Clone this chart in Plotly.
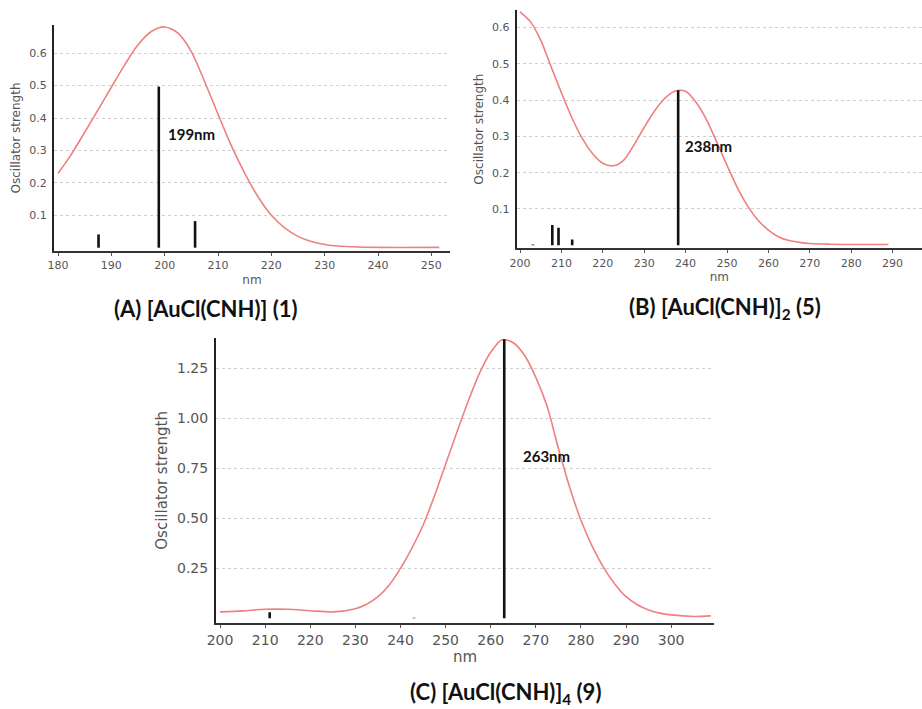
import plotly.graph_objects as go

# ---------------- data ----------------
# Panel A: [AuCl(CNH)] (1)
a_nm = [180, 182.5, 185, 187.5, 190, 192.5, 195, 197.5, 200, 202.5, 205, 207.5, 210,
        212.5, 215, 217.5, 220, 222.5, 225, 227.5, 230, 232.5, 235, 240, 251.5]
a_f = [0.229, 0.288, 0.356, 0.425, 0.495, 0.564, 0.626, 0.667, 0.681, 0.662, 0.605, 0.512, 0.412,
       0.315, 0.23, 0.157, 0.1, 0.061, 0.035, 0.019, 0.01, 0.005, 0.003, 0.001, 0.001]
a_stick_nm = [187.6, 198.9, 205.7]
a_stick_f = [0.041, 0.497, 0.082]

# Panel B: [AuCl(CNH)]2 (5)
b_nm = [200, 202.5, 205, 207.5, 210, 212.5, 215, 217.5, 220, 222.5, 225, 227.5, 230,
        232.5, 235, 237.5, 240, 242.5, 245, 247.5, 250, 252.5, 255, 257.5, 260, 262.5,
        265, 267.5, 270, 275, 280, 289]
b_f = [0.643, 0.616, 0.565, 0.492, 0.42, 0.352, 0.295, 0.253, 0.226, 0.219, 0.234, 0.276,
       0.325, 0.37, 0.405, 0.425, 0.424, 0.394, 0.347, 0.285, 0.22, 0.159, 0.108, 0.069,
       0.042, 0.023, 0.013, 0.008, 0.005, 0.003, 0.002, 0.002]
b_stick_nm = [203.1, 207.8, 209.3, 212.6, 238.2]
b_stick_f = [0.002, 0.056, 0.048, 0.016, 0.427]

# Panel C: [AuCl(CNH)]4 (9)
c_nm = [200, 205, 210, 215, 220, 225, 230, 232.5, 235, 237.5, 240, 242.5, 245, 247.5, 250,
        252.5, 255, 257.5, 260, 262.5, 265, 267.5, 270, 272.5, 275, 277.5, 280, 282.5, 285,
        287.5, 290, 292.5, 295, 297.5, 300, 305, 308.8]
c_f = [0.032, 0.037, 0.045, 0.045, 0.038, 0.032, 0.048, 0.07, 0.108, 0.167, 0.25, 0.35,
       0.465, 0.61, 0.77, 0.93, 1.085, 1.225, 1.33, 1.393, 1.378, 1.315, 1.205, 1.06, 0.85,
       0.655, 0.49, 0.36, 0.255, 0.172, 0.108, 0.068, 0.042, 0.026, 0.017, 0.009, 0.012]
c_stick_nm = [211.0, 243.0, 263.0]
c_stick_f = [0.03, 0.003, 1.395]

labels = ["199nm", "238nm", "263nm"]
label_nm = [200.3, 239.3, 266.7]
label_f = [0.35, 0.274, 0.81]

titles = ["(A) [AuCl(CNH)] (1)", "(B) [AuCl(CNH)]<sub>2</sub> (5)", "(C) [AuCl(CNH)]<sub>4</sub> (9)"]

a_xticks = [180, 190, 200, 210, 220, 230, 240, 250]
b_xticks = [200, 210, 220, 230, 240, 250, 260, 270, 280, 290]
c_xticks = [200, 210, 220, 230, 240, 250, 260, 270, 280, 290, 300]
ab_yticks = [0.1, 0.2, 0.3, 0.4, 0.5, 0.6]
c_yticks = [0.25, 0.5, 0.75, 1.0, 1.25]
c_ytext = ["0.25", "0.50", "0.75", "1.00", "1.25"]

# ---------------- figure ----------------
W, H = 922, 709
CURVE = "#f07f7f"
fig = go.Figure()

def sticks(xs, ys):
    sx, sy = [], []
    for x, y in zip(xs, ys):
        sx += [x, x, None]
        sy += [0, y, None]
    return sx, sy

panels = [
    (a_nm, a_f, a_stick_nm, a_stick_f, "x", "y"),
    (b_nm, b_f, b_stick_nm, b_stick_f, "x2", "y2"),
    (c_nm, c_f, c_stick_nm, c_stick_f, "x3", "y3"),
]
for nm, f, snm, sf, xa, ya in panels:
    fig.add_trace(go.Scatter(x=nm, y=f, mode="lines", xaxis=xa, yaxis=ya,
                             line=dict(color=CURVE, width=1.6, shape="spline", smoothing=0.8),
                             showlegend=False, hoverinfo="skip"))
    sx, sy = sticks(snm, sf)
    fig.add_trace(go.Scatter(x=sx, y=sy, mode="lines", xaxis=xa, yaxis=ya,
                             line=dict(color="#111111", width=2.6),
                             showlegend=False, hoverinfo="skip", cliponaxis=False))

def px_x(p):
    return p / W

def px_y(p):
    return 1 - p / H

tickfont_s = dict(family="DejaVu Sans", size=11, color="#555555")
tickfont_l = dict(family="DejaVu Sans", size=14, color="#555555")
grid = dict(showgrid=True, gridcolor="#cfcfcf", griddash="dot", gridwidth=1)

def xax(domain, rng, ticks, tf, tsize, anchor):
    return dict(domain=domain, range=rng, tickvals=ticks, tickfont=tf, anchor=anchor,
                automargin=False,
                showgrid=False, zeroline=False, showline=True, linecolor="#333333",
                linewidth=2, ticks="outside", ticklen=3, tickcolor="#555555",
                title=dict(text="nm", font=dict(family="DejaVu Sans", size=tsize, color="#555555"),
                           standoff=4))

def yax(domain, rng, ticks, tf, tsize, anchor, ticktext=None):
    d = dict(domain=domain, range=rng, tickvals=ticks, tickfont=tf, zeroline=False,
             automargin=False,
             showline=True, linecolor="#222222", linewidth=2, ticks="outside", ticklen=3,
             tickcolor="rgba(0,0,0,0)", anchor=anchor,
             title=dict(text="Oscillator strength",
                        font=dict(family="DejaVu Sans", size=tsize, color="#555555"),
                        standoff=6), **grid)
    if ticktext:
        d["ticktext"] = ticktext
    return d

fig.update_layout(
    width=W, height=H, margin=dict(l=0, r=0, t=0, b=0, autoexpand=False),
    plot_bgcolor="white", paper_bgcolor="white",
    xaxis=xax([px_x(54), px_x(450)], [179.25, 253.5], a_xticks, tickfont_s, 12, "y"),
    yaxis=yax([px_y(251), px_y(25)], [-0.0102, 0.687], ab_yticks, tickfont_s, 12, "x"),
    xaxis2=xax([px_x(516.7), 1.0], [199.2, 297.1], b_xticks, tickfont_s, 12, "y2"),
    yaxis2=yax([px_y(248.3), px_y(10)], [-0.0083, 0.648], ab_yticks, tickfont_s, 12, "x2"),
    xaxis3=xax([px_x(216), px_x(714)], [199.1, 309.5], c_xticks, tickfont_l, 15, "y3"),
    yaxis3=yax([px_y(622.7), px_y(338)], [-0.022, 1.4015], c_yticks, tickfont_l, 15, "x3", c_ytext),
)

# peak labels
for i, (xa, ya) in enumerate([("x", "y"), ("x2", "y2"), ("x3", "y3")]):
    fig.add_annotation(x=label_nm[i], y=label_f[i], xref=xa, yref=ya, text="<b>" + labels[i] + "</b>",
                       showarrow=False, xanchor="left", yanchor="middle",
                       font=dict(family="Lato", size=15, color="#111111"))

# panel titles
title_pos = [(206, 308), (725, 308), (505, 693)]
for t, (cx, cy) in zip(titles, title_pos):
    fig.add_annotation(x=px_x(cx), y=px_y(cy), xref="paper", yref="paper", text="<b>" + t + "</b>",
                       showarrow=False, xanchor="center", yanchor="middle",
                       font=dict(family="Lato", size=22, color="#111111"))

fig.write_html("out.html", config={"displayModeBar": False},
               post_script="document.body.style.margin='0';document.body.style.overflow='hidden';")
